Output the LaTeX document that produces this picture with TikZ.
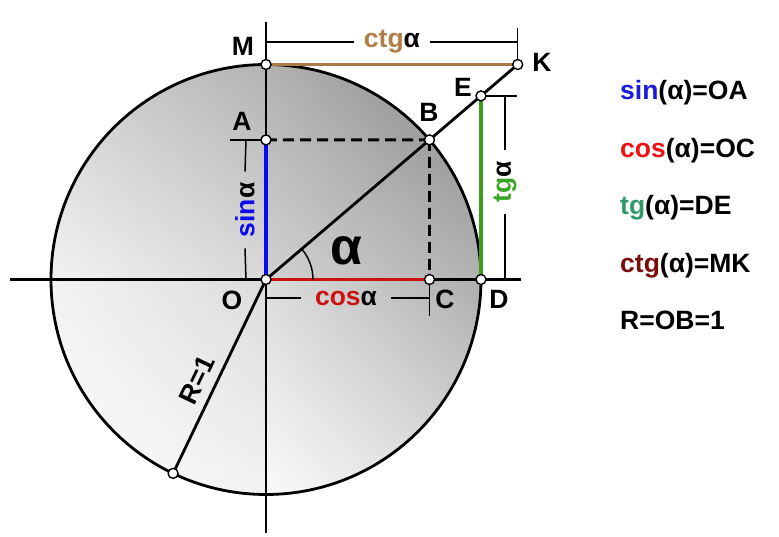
\documentclass[tikz,border=0pt]{standalone}
\usepackage{fontspec}
\usetikzlibrary{shadings}
\setmainfont{Liberation Sans}
\definecolor{sincol}{HTML}{0A0AEE}
\definecolor{coscol}{HTML}{CC1111}
\definecolor{tgcol}{HTML}{3C9C1C}
\definecolor{tglbl}{HTML}{3AA428}
\definecolor{ctgcol}{HTML}{A87A45}
\definecolor{ctglbl}{HTML}{B07C48}
\definecolor{lsin}{HTML}{1A1AD8}
\definecolor{lcos}{HTML}{EE1111}
\definecolor{ltg}{HTML}{2F9A68}
\definecolor{lctg}{HTML}{7A0C0C}
\begin{document}
\begin{tikzpicture}[x=1pt,y=1pt,
  lbl/.style={font=\fontsize{26.5}{30}\selectfont\bfseries, inner sep=0pt},
  bigal/.style={font=\fontsize{52}{56}\selectfont\bfseries, inner sep=0pt},
  dimlbl/.style={lbl, inner xsep=11pt},
  heavy/.style={line width=2.8pt},
  colline/.style={line width=3.2pt},
  dimline/.style={line width=1.5pt},
  dashline/.style={line width=2.8pt, dash pattern=on 11pt off 6pt},
  dot/.style={circle, draw, fill=white, line width=1.4pt, minimum size=10pt, inner sep=0pt},
]
\useasboundingbox (-266,-257.5) rectangle (513,279.5);
% shaded quadrants
\begin{scope}
\clip (0,0) circle (215);
\shade[lower left=white!95!black, lower right=white!85!black, upper left=white!82!black, upper right=white!70!black] (-216,0) rectangle (0,216);
\shade[lower left=white!82!black, lower right=white!70!black, upper left=white!70!black, upper right=white!52!black] (0,0) rectangle (216,216);
\shade[lower left=white, lower right=white!95!black, upper left=white!95!black, upper right=white!86!black] (-216,-216) rectangle (0,0);
\shade[lower left=white!98!black, lower right=white!86!black, upper left=white!86!black, upper right=white!68!black] (0,-216) rectangle (216,0);
\end{scope}
% coordinates
\coordinate (O) at (0,0);
\coordinate (B) at (40.5:215);
\coordinate (A) at (0,139.6);
\coordinate (C) at (163.5,0);
\coordinate (D) at (215,0);
\coordinate (E) at (215,183.6);
\coordinate (M) at (0,215);
\coordinate (K) at (251.7,215);
\coordinate (P) at (244.4:215);
\coordinate (xL) at (-256,0);
\coordinate (xR) at (255,0);
\coordinate (yT) at (0,257.5);
\coordinate (yB) at (0,-254);
% axes and circle
\draw[heavy] (xL) -- (xR);
\draw[heavy] (yB) -- (yT);
\draw[heavy] (O) circle (215);
% coloured segments
\draw[colline, sincol] (O) -- (A);
\draw[colline, coscol] (O) -- (C);
\draw[colline, tgcol] (D) -- (E);
\draw[colline, ctgcol] (M) -- (K);
% dashed projections
\draw[dashline] (A) -- (B);
\draw[dashline] (B) -- (C);
% radius lines
\draw[heavy] (O) -- (K);
\draw[heavy] (O) -- (P);
% angle arc
\draw[dimline] (47,0) arc (0:40.5:47);
% dimension: ctg
\coordinate (ctgL) at (0,237.5);
\coordinate (ctgR) at (251.7,237.5);
\coordinate (Ktop) at (251.7,251.5);
\node[dimlbl, inner xsep=10pt] (ctgt) at (126,237.5) {\textcolor{ctglbl}{ctg}α};
\draw[dimline] (ctgL) -- (ctgt.west);
\draw[dimline] (ctgt.east) -- (ctgR);
\draw[dimline] (K) -- (Ktop);
% dimension: sin
\coordinate (sinA) at (-36,139.6);
\coordinate (sinT) at (-20,139.6);
\coordinate (sinB) at (-20,0);
\draw[dimline] (sinA) -- (A);
\node[dimlbl, rotate=90] (sint) at (-21,69.5) {\textcolor{sincol}{sin}α};
\draw[dimline] (sinT) -- (sint.east);
\draw[dimline] (sint.west) -- (sinB);
% dimension: tg
\coordinate (tgR) at (251,183.6);
\coordinate (tgT) at (239,183.6);
\coordinate (tgB) at (239,0);
\draw[dimline] (E) -- (tgR);
\node[dimlbl, rotate=90] (tgt) at (239,97.5) {\textcolor{tglbl}{tg}α};
\draw[dimline] (tgT) -- (tgt.east);
\draw[dimline] (tgt.west) -- (tgB);
% dimension: cos
\coordinate (cosL) at (0,-18.5);
\coordinate (cosR) at (163.5,-18.5);
\coordinate (Cbot) at (163.5,-36.5);
\draw[dimline] (C) -- (Cbot);
\node[dimlbl, inner xsep=14pt] (cost) at (80,-18.5) {\textcolor{coscol}{cos}α};
\draw[dimline] (cosL) -- (cost.west);
\draw[dimline] (cost.east) -- (cosR);
% points
\foreach \p in {O,A,B,C,D,E,M,K,P} \node[dot] (d\p) at (\p) {};
% point labels
\node[lbl] (lM) at (-23,233.5) {M};
\node[lbl] (lA) at (-24,158.5) {A};
\node[lbl] (lB) at (163,167.5) {B};
\node[lbl] (lE) at (197,192.5) {E};
\node[lbl] (lK) at (276,217.5) {K};
\node[lbl] (lO) at (-34,-20.5) {O};
\node[lbl] (lC) at (179,-19.5) {C};
\node[lbl] (lD) at (233,-19.5) {D};
\node[bigal] (lal) at (80,29) {α};
\node[lbl, rotate=64.4] (lR) at (-69,-100.5) {R=1};
% legend
\node[lbl, anchor=base west] (g1) at (354,179.5) {\textcolor{lsin}{sin}(α)=OA};
\node[lbl, anchor=base west] (g2) at (354,121.5) {\textcolor{lcos}{cos}(α)=OC};
\node[lbl, anchor=base west] (g3) at (354,64.5) {\textcolor{ltg}{tg}(α)=DE};
\node[lbl, anchor=base west] (g4) at (354,6.5) {\textcolor{lctg}{ctg}(α)=MK};
\node[lbl, anchor=base west] (g5) at (354,-50.5) {R=OB=1};
\end{tikzpicture}
\end{document}
